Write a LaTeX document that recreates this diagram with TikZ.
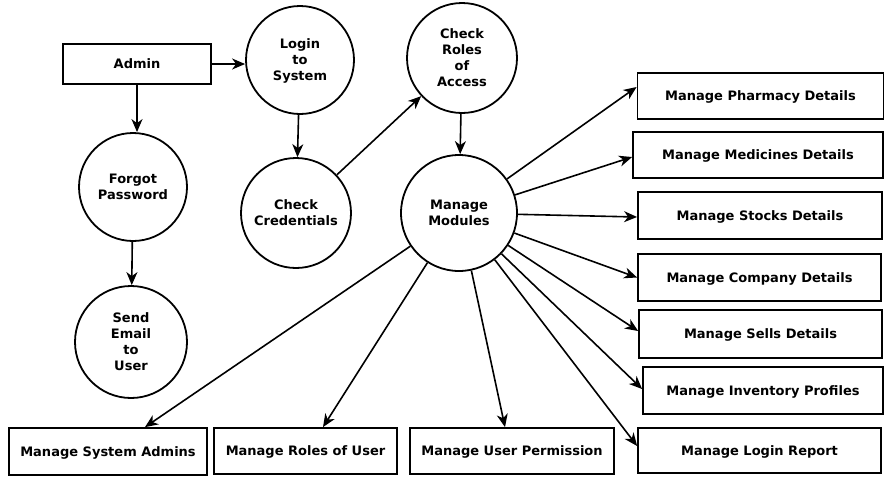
\documentclass[tikz,border=0pt]{standalone}
\usepackage{fontspec}
\setmainfont{DejaVu Sans}
\usetikzlibrary{arrows.meta,calc}
\begin{document}
\begin{tikzpicture}[x=1pt,y=-1pt,
  every node/.style={font=\fontsize{13}{16}\selectfont\bfseries, align=center, text depth=-3pt},
  proc/.style={draw, circle, line width=1.8pt, inner sep=0pt,
    execute at begin node={\rule{0pt}{15pt}}},
  entity/.style={draw, rectangle, line width=1.8pt, inner sep=0pt},
  flow/.style={line width=1.6pt, -{Stealth[length=13pt,width=11pt,inset=4pt]}}]
\useasboundingbox[fill=white] (0,0) rectangle (896,485);

% processes
\node[proc, minimum size=108pt] (login)  at (300,60)  {Login\\to\\System};
\node[proc, minimum size=110pt] (access) at (462,58)  {Check\\Roles\\of\\Access};
\node[proc, minimum size=108pt] (forgot) at (133,187) {Forgot\\Password};
\node[proc, minimum size=110pt] (cred)   at (296,213) {Check\\Credentials};
\node[proc, minimum size=116pt] (mods)   at (459,213) {Manage\\Modules};
\node[proc, minimum size=112pt] (email)  at (131,342) {Send\\Email\\to\\User};

% entities
\node[entity, minimum width=148pt, minimum height=40pt] (admin)  at (137,64)    {Admin};
\node[entity, minimum width=246pt, minimum height=46pt] (pharm)  at (760.5,96)  {Manage Pharmacy Details};
\node[entity, minimum width=250pt, minimum height=46pt] (medic)  at (758,155)   {Manage Medicines Details};
\node[entity, minimum width=244pt, minimum height=47pt] (stock)  at (760,215.5) {Manage Stocks Details};
\node[entity, minimum width=243pt, minimum height=47pt] (comp)   at (759.5,277.5) {Manage Company Details};
\node[entity, minimum width=243pt, minimum height=48pt] (sells)  at (760.5,334) {Manage Sells Details};
\node[entity, minimum width=240pt, minimum height=47pt] (invent) at (763,390.5) {Manage Inventory Profiles};
\node[entity, minimum width=243pt, minimum height=45pt] (logrep) at (759.5,450.5) {Manage Login Report};
\node[entity, minimum width=198pt, minimum height=47pt] (sysadm) at (108,451.5) {Manage System Admins};
\node[entity, minimum width=183pt, minimum height=46pt] (roles)  at (305.5,451) {Manage Roles of User};
\node[entity, minimum width=204pt, minimum height=46pt] (perm)   at (512,451)   {Manage User Permission};

% arrow end points on the module boxes
\coordinate (ePharm)  at ($(pharm.west)+(0,-9)$);
\coordinate (eMedic)  at ($(medic.west)+(0,2)$);
\coordinate (eStock)  at ($(stock.west)+(0,1.5)$);
\coordinate (eComp)   at (comp.west);
\coordinate (eSells)  at ($(sells.west)+(0,-3)$);
\coordinate (eInvent) at ($(invent.west)+(0,-1.5)$);
\coordinate (eLogrep) at ($(logrep.west)+(0,-4.5)$);
\coordinate (eSysadm) at ($(sysadm.north)+(37,0)$);
\coordinate (eRoles)  at ($(roles.north)+(17.5,0)$);
\coordinate (ePerm)   at ($(perm.north)+(-7,0)$);

% login flow
\draw[flow] (admin.east) -- (admin.east -| login.west);
\draw[flow] (admin.south) -- (admin.south |- forgot.north);
\draw[flow] (forgot) -- (email);
\draw[flow] (login) -- (cred);
\draw[flow] (cred) -- (access);
\draw[flow] (access) -- (mods);

% module fan-out
\foreach \t in {ePharm,eMedic,eStock,eComp,eSells,eInvent,eLogrep,eSysadm,eRoles,ePerm}
  \draw[flow] (mods) -- (\t);
\end{tikzpicture}
\end{document}
